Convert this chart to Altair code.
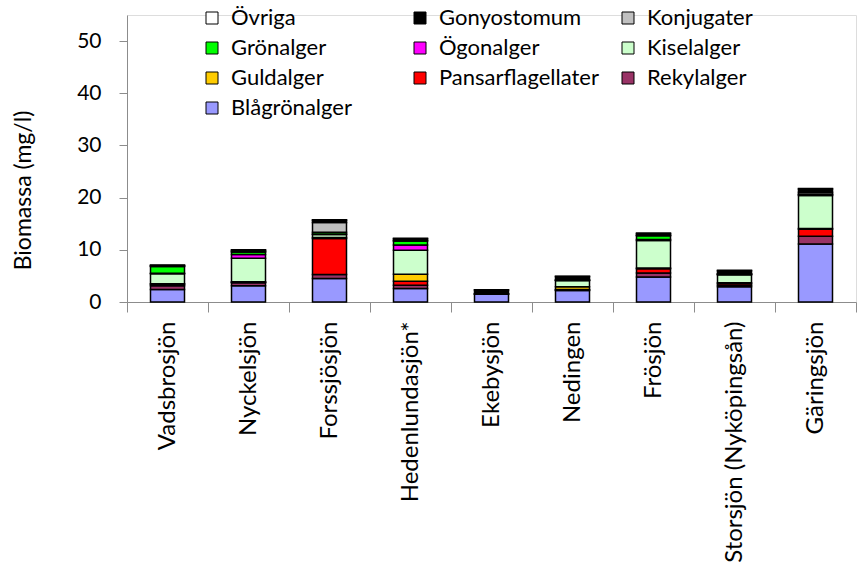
import altair as alt
import pandas as pd

# Lakes (x categories)
lakes = ["Vadsbrosjön", "Nyckelsjön", "Forssjösjön", "Hedenlundasjön*", "Ekebysjön",
         "Nedingen", "Frösjön", "Storsjön (Nyköpingsån)", "Gäringsjön"]

# Biomass per algal group (mg/l), one value per lake
blagronalger = [2.4, 3.1, 4.5, 2.6, 1.5, 2.2, 4.8, 2.9, 11.1]
rekylalger = [0.7, 0.6, 0.75, 0.6, 0.05, 0.1, 0.75, 0.3, 1.5]
pansarflagellater = [0.3, 0.1, 6.9, 0.8, 0.0, 0.1, 0.8, 0.35, 1.35]
guldalger = [0.1, 0.1, 0.2, 1.3, 0.0, 0.5, 0.15, 0.15, 0.15]
kiselalger = [1.9, 4.5, 0.6, 4.6, 0.05, 1.2, 5.3, 1.5, 6.3]
ogonalger = [0.1, 0.7, 0.1, 1.0, 0.0, 0.0, 0.2, 0.05, 0.15]
gronalger = [1.3, 0.5, 0.3, 0.8, 0.0, 0.05, 0.7, 0.1, 0.15]
konjugater = [0.1, 0.1, 1.9, 0.1, 0.0, 0.05, 0.1, 0.05, 0.35]
gonyostomum = [0.1, 0.2, 0.4, 0.3, 0.7, 0.7, 0.3, 0.6, 0.6]
ovriga = [0.1, 0.1, 0.1, 0.1, 0.05, 0.05, 0.1, 0.1, 0.1]

# Stacking order, bottom to top
groups = ["Blågrönalger", "Rekylalger", "Pansarflagellater", "Guldalger", "Kiselalger",
          "Ögonalger", "Grönalger", "Konjugater", "Gonyostomum", "Övriga"]
series = [blagronalger, rekylalger, pansarflagellater, guldalger, kiselalger,
          ogonalger, gronalger, konjugater, gonyostomum, ovriga]
colors = ["#9999FF", "#993366", "#FF0000", "#FFCC00", "#CCFFCC",
          "#FF00FF", "#00FF00", "#C0C0C0", "#000000", "#FFFFFF"]

# Legend domain, arranged so the 3-column grid reads
# Övriga / Gonyostomum / Konjugater, Grönalger / Ögonalger / Kiselalger, ...
legend_order = ["Övriga", "Grönalger", "Guldalger", "Rekylalger",
                "Gonyostomum", "Ögonalger", "Pansarflagellater",
                "Blågrönalger", "Konjugater", "Kiselalger"]
legend_colors = [colors[groups.index(g)] for g in legend_order]

rows = []
for gi, (g, vals) in enumerate(zip(groups, series)):
    for lake, v in zip(lakes, vals):
        rows.append({"Sjö": lake, "Grupp": g, "Biomassa": v, "idx": gi})
df = pd.DataFrame(rows)

FONT = "Lato"
AXIS_GREY = "#8c8c8c"

chart = alt.Chart(df).mark_bar(
    size=34, stroke="black", strokeWidth=1.5
).encode(
    x=alt.X("Sjö:N", sort=lakes, title=None,
            scale=alt.Scale(paddingInner=0, paddingOuter=0),
            axis=alt.Axis(labelAngle=-90, labelAlign="right", labelBaseline="middle",
                          labelFontSize=24, labelFont=FONT, labelColor="black",
                          labelPadding=9, labelLimit=400, tickBand="extent", tickSize=10,
                          domainColor=AXIS_GREY, tickColor=AXIS_GREY)),
    y=alt.Y("Biomassa:Q", stack="zero",
            scale=alt.Scale(domain=[0, 55], nice=False),
            axis=alt.Axis(values=[0, 10, 20, 30, 40, 50], title="Biomassa (mg/l)",
                          titleFont=FONT, titleFontSize=23, titleFontWeight="normal",
                          titleColor="black", titleX=-104, titleY=175, titleAngle=-90,
                          titleAlign="center", titleBaseline="middle",
                          labelFontSize=21, labelFont=FONT, labelColor="black",
                          labelPadding=18, tickSize=8, grid=False,
                          domainColor=AXIS_GREY, tickColor=AXIS_GREY)),
    color=alt.Color("Grupp:N", scale=alt.Scale(domain=legend_order, range=legend_colors),
                    legend=alt.Legend(title=None, orient="none", legendX=74, legendY=-8,
                                      columns=3, gridAlign="all", columnPadding=18,
                                      rowPadding=8, symbolType="square", symbolSize=144,
                                      symbolStrokeColor="black", symbolStrokeWidth=1,
                                      labelFont=FONT, labelFontSize=22, labelColor="black",
                                      labelLimit=300, labelOffset=8)),
    order=alt.Order("idx:Q", sort="ascending"),
).properties(
    width=729, height=287,
    autosize=alt.AutoSizeParams(type="none"),
    padding={"left": 127, "top": 15, "right": 1, "bottom": 274},
).configure_view(stroke=None).configure(background="white")

chart.save("out.html", embed_options={"renderer": "svg", "actions": False})
